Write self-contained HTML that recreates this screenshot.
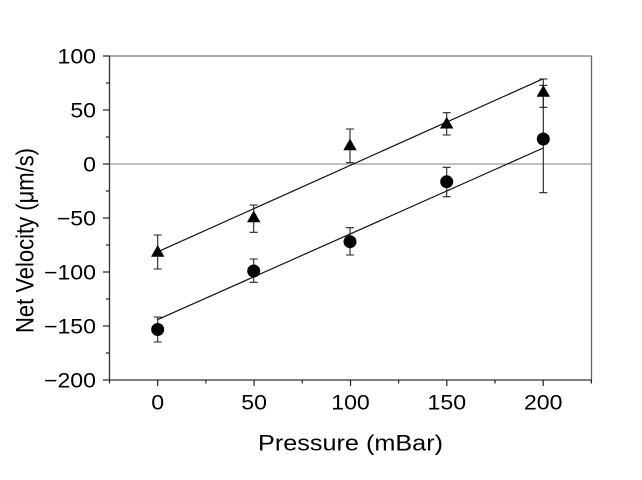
<!DOCTYPE html>
<html>
<head>
<meta charset="utf-8">
<style>
html,body{margin:0;padding:0;background:#fff;}
svg{display:block;}
text{font-family:"Liberation Sans",Arial,sans-serif;fill:#000;}
</style>
</head>
<body>
<svg width="642" height="480" viewBox="0 0 642 480" xmlns="http://www.w3.org/2000/svg">
<rect x="0" y="0" width="642" height="480" fill="#fff"/>
<!-- zero line -->
<line x1="109.5" y1="164" x2="591.5" y2="164" stroke="#aaa" stroke-width="1.5"/>
<!-- frame -->
<line x1="109.5" y1="56" x2="591.5" y2="56" stroke="#777" stroke-width="1.3"/>
<line x1="591.5" y1="56" x2="591.5" y2="380" stroke="#666" stroke-width="1.3"/>
<line x1="109.5" y1="55.5" x2="109.5" y2="380.5" stroke="#333" stroke-width="1.3"/>
<line x1="109" y1="380" x2="592" y2="380" stroke="#333" stroke-width="1.3"/>
<!-- y ticks -->
<g stroke="#222" stroke-width="1.2">
<line x1="103" y1="56" x2="109.5" y2="56"/>
<line x1="103" y1="110" x2="109.5" y2="110"/>
<line x1="103" y1="164" x2="109.5" y2="164"/>
<line x1="103" y1="218" x2="109.5" y2="218"/>
<line x1="103" y1="272" x2="109.5" y2="272"/>
<line x1="103" y1="326" x2="109.5" y2="326"/>
<line x1="103" y1="380" x2="109.5" y2="380"/>
<line x1="106" y1="83" x2="109.5" y2="83"/>
<line x1="106" y1="137" x2="109.5" y2="137"/>
<line x1="106" y1="191" x2="109.5" y2="191"/>
<line x1="106" y1="245" x2="109.5" y2="245"/>
<line x1="106" y1="299" x2="109.5" y2="299"/>
<line x1="106" y1="353" x2="109.5" y2="353"/>
</g>
<!-- x ticks -->
<g stroke="#222" stroke-width="1.2">
<line x1="157.7" y1="380" x2="157.7" y2="386"/>
<line x1="254.1" y1="380" x2="254.1" y2="386"/>
<line x1="350.5" y1="380" x2="350.5" y2="386"/>
<line x1="446.8" y1="380" x2="446.8" y2="386"/>
<line x1="543.2" y1="380" x2="543.2" y2="386"/>
<line x1="109.5" y1="380" x2="109.5" y2="383.5"/>
<line x1="205.9" y1="380" x2="205.9" y2="383.5"/>
<line x1="302.3" y1="380" x2="302.3" y2="383.5"/>
<line x1="398.6" y1="380" x2="398.6" y2="383.5"/>
<line x1="495" y1="380" x2="495" y2="383.5"/>
<line x1="591.4" y1="380" x2="591.4" y2="383.5"/>
</g>
<!-- y tick labels -->
<g font-size="21" text-anchor="end">
<text transform="translate(96,63.5) scale(1.1,1)">100</text>
<text transform="translate(96,117.5) scale(1.1,1)">50</text>
<text transform="translate(96,171.5) scale(1.1,1)">0</text>
<text transform="translate(96,225.5) scale(1.1,1)">−50</text>
<text transform="translate(96,279.5) scale(1.1,1)">−100</text>
<text transform="translate(96,333.5) scale(1.1,1)">−150</text>
<text transform="translate(96,387.5) scale(1.1,1)">−200</text>
</g>
<!-- x tick labels -->
<g font-size="21" text-anchor="middle">
<text transform="translate(157.7,409.5) scale(1.1,1)">0</text>
<text transform="translate(254.1,409.5) scale(1.1,1)">50</text>
<text transform="translate(350.5,409.5) scale(1.1,1)">100</text>
<text transform="translate(446.8,409.5) scale(1.1,1)">150</text>
<text transform="translate(543.2,409.5) scale(1.1,1)">200</text>
</g>
<!-- axis labels -->
<text x="350.5" y="450.7" font-size="22" text-anchor="middle" textLength="185" lengthAdjust="spacingAndGlyphs">Pressure (mBar)</text>
<text transform="translate(33.5,240.5) scale(1.12,1) rotate(-90)" font-size="22" text-anchor="middle" textLength="185" lengthAdjust="spacingAndGlyphs">Net Velocity (μm/s)</text>
<!-- fit lines -->
<line x1="157.7" y1="251.8" x2="543.3" y2="78.7" stroke="#111" stroke-width="1.2"/>
<line x1="157.7" y1="319.6" x2="543.3" y2="148" stroke="#111" stroke-width="1.2"/>
<!-- error bars -->
<g stroke="#222" stroke-width="1.1" fill="none">
<path d="M157.7 235 V269 M153.7 235 H161.7 M153.7 269 H161.7"/>
<path d="M253.7 205 V232.3 M249.7 205 H257.7 M249.7 232.3 H257.7"/>
<path d="M350 129 V162.7 M346 129 H354 M346 162.7 H354"/>
<path d="M446.7 112.7 V135 M442.7 112.7 H450.7 M442.7 135 H450.7"/>
<path d="M543.3 79 V107.3 M539.3 79 H547.3 M539.3 107.3 H547.3"/>
<path d="M157.7 317 V342 M153.7 317 H161.7 M153.7 342 H161.7"/>
<path d="M253.7 259 V282.3 M249.7 259 H257.7 M249.7 282.3 H257.7"/>
<path d="M350 227.7 V255 M346 227.7 H354 M346 255 H354"/>
<path d="M446.7 167.3 V196.7 M442.7 167.3 H450.7 M442.7 196.7 H450.7"/>
<path d="M543.3 85.3 V192.7 M539.3 85.3 H547.3 M539.3 192.7 H547.3"/>
</g>
<!-- triangles -->
<g fill="#000">
<polygon points="157.7,245 151,256.8 164.4,256.8"/>
<polygon points="253.7,210.5 247,222.3 260.4,222.3"/>
<polygon points="350,138.5 343.3,150.3 356.7,150.3"/>
<polygon points="446.7,116.7 440,128.5 453.4,128.5"/>
<polygon points="543.3,85 536.6,96.8 550,96.8"/>
</g>
<!-- circles -->
<g fill="#000">
<circle cx="157.7" cy="329.5" r="6.5"/>
<circle cx="253.7" cy="271" r="6.5"/>
<circle cx="350" cy="241.7" r="6.5"/>
<circle cx="446.7" cy="181.7" r="6.5"/>
<circle cx="543.3" cy="139" r="6.5"/>
</g>
</svg>
</body>
</html>
